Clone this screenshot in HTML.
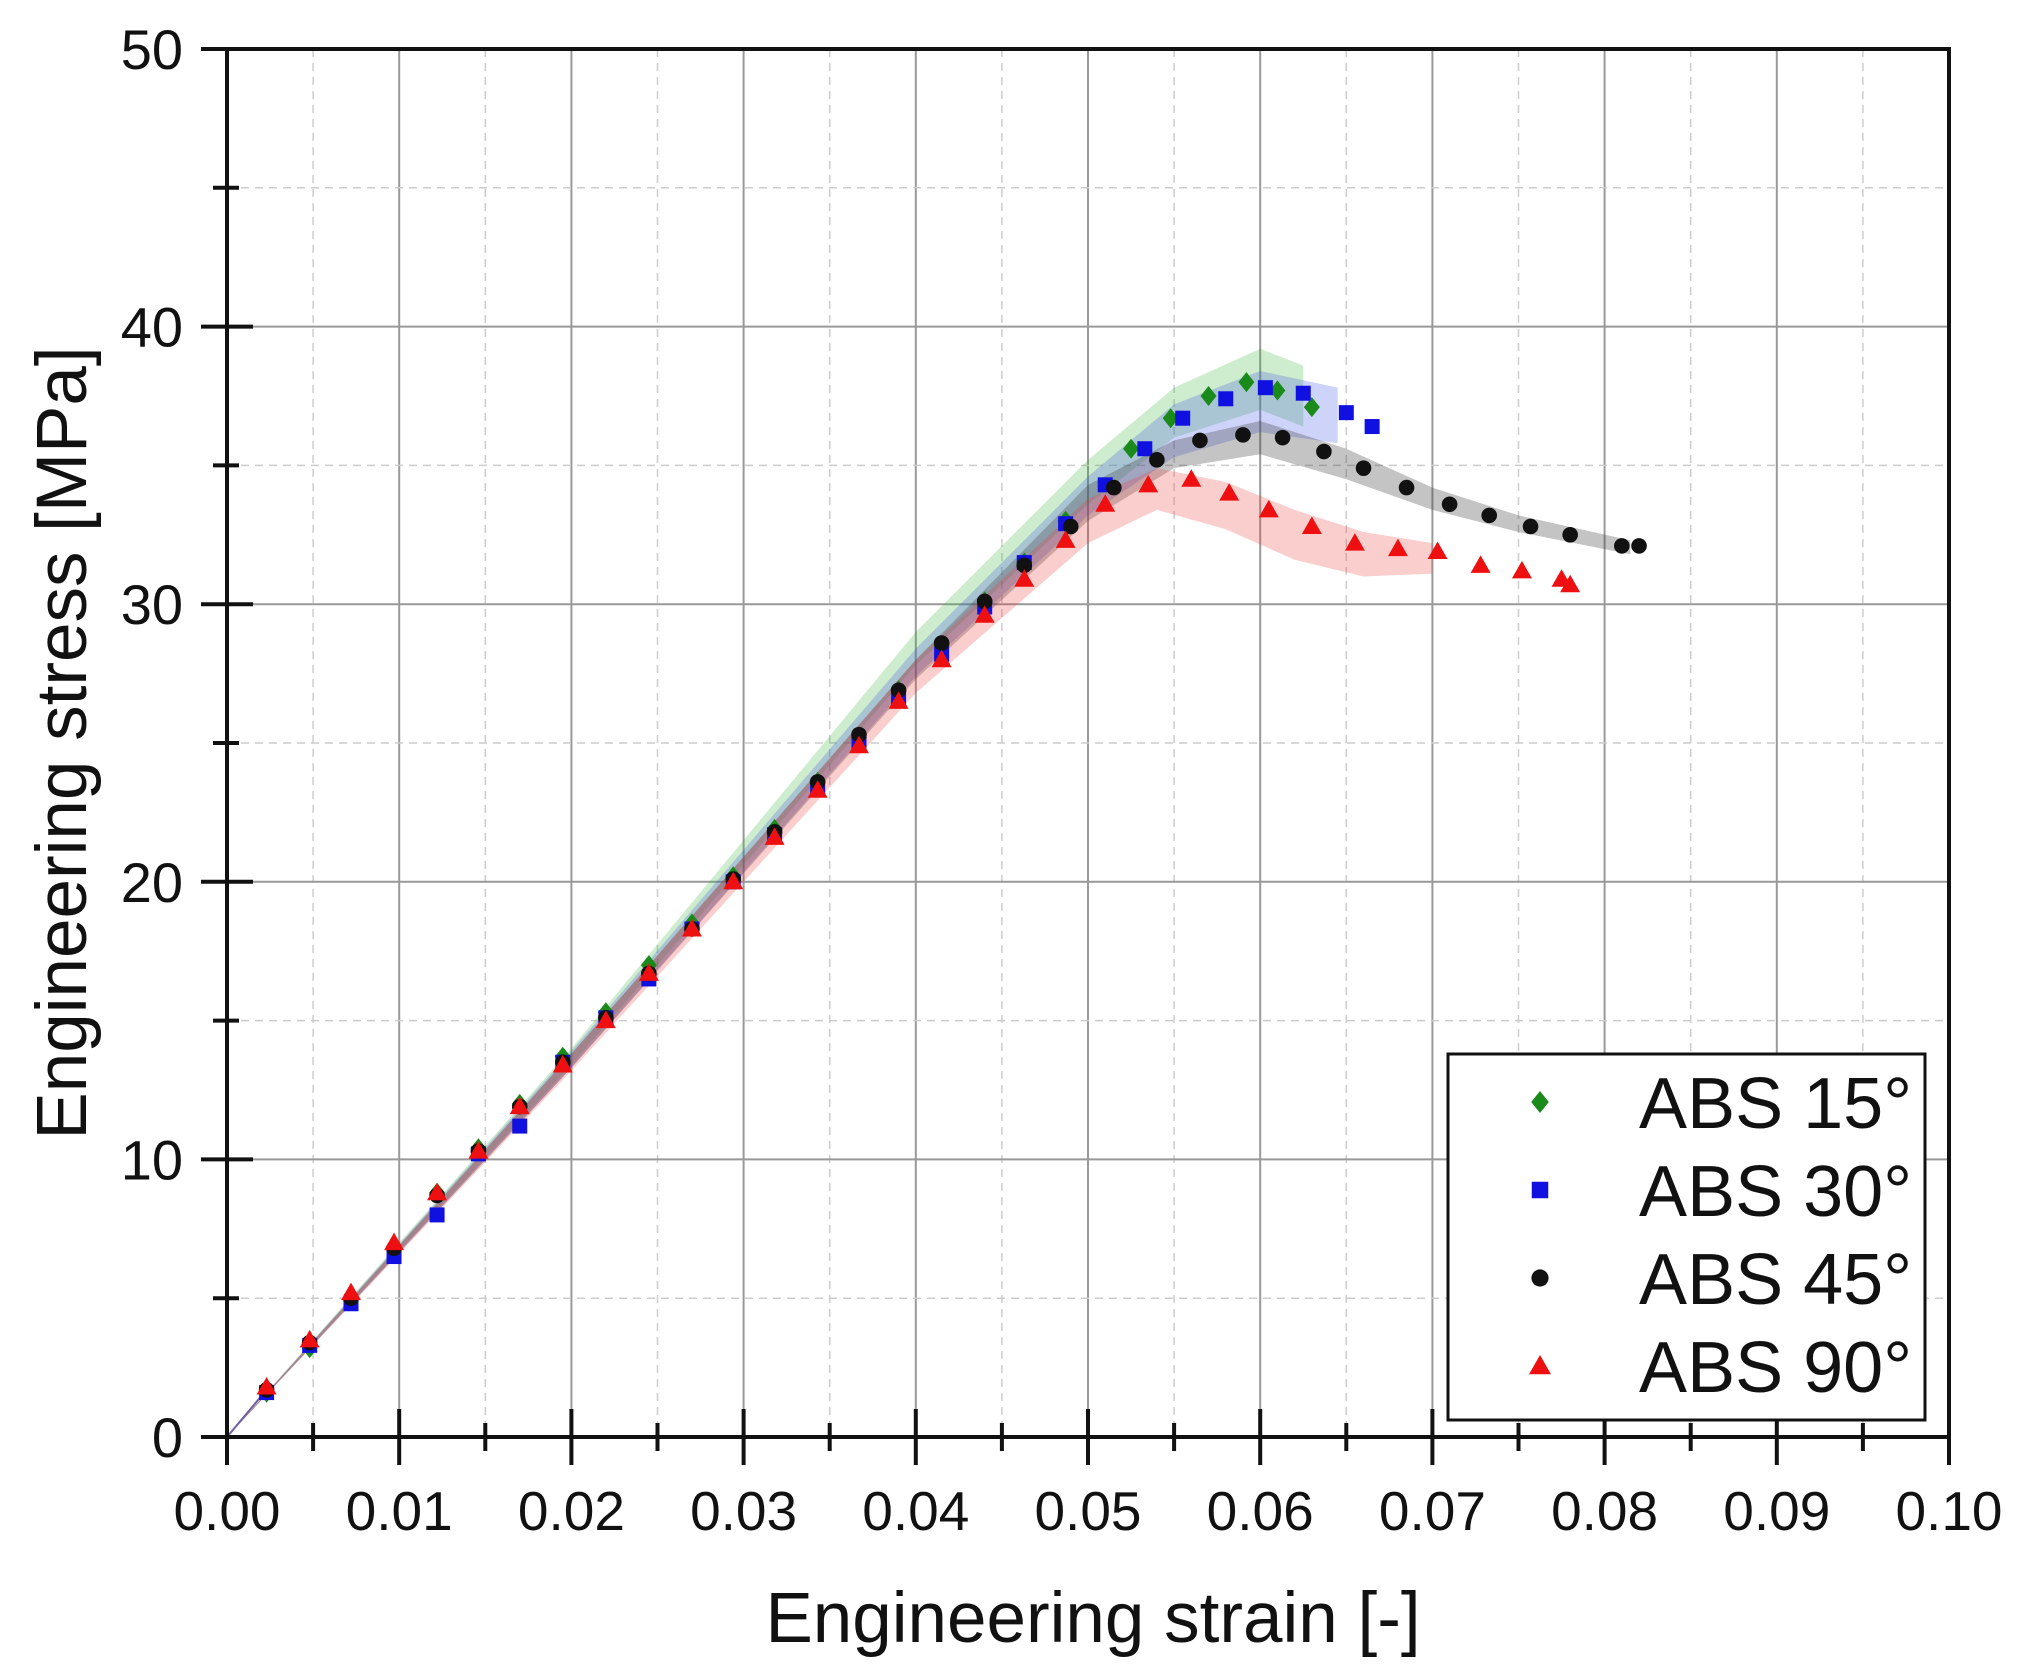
<!DOCTYPE html>
<html><head><meta charset="utf-8"><style>
html,body{margin:0;padding:0;background:#fff;}
svg{display:block;font-family:"Liberation Sans",Arial,sans-serif;}
</style></head><body>
<svg id="chart" width="2028" height="1680" viewBox="0 0 2028 1680" xmlns="http://www.w3.org/2000/svg">
<g id="grid"></g>
<g id="bands"></g>
<g id="marks"></g>
<g id="axes"></g>
<g transform="translate(-8,-6)">
<rect x="1456" y="1060" width="477" height="366" fill="#fff" stroke="#111" stroke-width="3"/>
<g id="legend"></g>
</g>
<text x="1093" y="1642" font-size="71" text-anchor="middle" fill="#111">Engineering strain [-]</text>
<text transform="translate(86,743) rotate(-90)" font-size="71" text-anchor="middle" fill="#111">Engineering stress [MPa]</text>
</svg>
<script>
const xTicks=[0,0.01,0.02,0.03,0.04,0.05,0.06,0.07,0.08,0.09,0.10];
const xTickLabels=["0.00","0.01","0.02","0.03","0.04","0.05","0.06","0.07","0.08","0.09","0.10"];
const yTicks=[0,10,20,30,40,50];
const yTickLabels=["0","10","20","30","40","50"];
const seriesNames=["ABS 15°","ABS 30°","ABS 45°","ABS 90°"];
const seriesColors=["#1a8a1a","#1010e0","#111111","#ee1010"];
const bandColors=["rgba(60,180,60,0.25)","rgba(60,80,230,0.25)","rgba(60,60,60,0.3)","rgba(240,60,60,0.25)"];
const linStrain=[0.0023,0.0048,0.0072,0.0097,0.0122,0.0146,0.017,0.0195,0.022,0.0245,0.027,0.0294,0.0318,0.0343,0.0367,0.039,0.0415,0.044,0.0463];
const s15x=linStrain.concat([0.0487,0.0525,0.0548,0.057,0.0592,0.061,0.063]);
const s15y=[1.6,3.2,4.9,6.8,8.8,10.4,12.0,13.7,15.3,17.0,18.5,20.2,21.9,23.6,25.2,26.9,28.5,30.1,31.5,33.0,35.6,36.7,37.5,38.0,37.7,37.1];
const s30x=linStrain.concat([0.0487,0.051,0.0533,0.0555,0.058,0.0603,0.0625,0.065,0.0665]);
const s30y=[1.6,3.3,4.8,6.5,8.0,10.2,11.2,13.5,15.1,16.5,18.3,20.0,21.7,23.4,25.0,26.6,28.2,29.9,31.5,32.9,34.3,35.6,36.7,37.4,37.8,37.6,36.9,36.4];
const s45x=linStrain.concat([0.049,0.0515,0.054,0.0565,0.059,0.0613,0.0637,0.066,0.0685,0.071,0.0733,0.0757,0.078,0.081,0.082]);
const s45y=[1.7,3.4,5.0,6.8,8.7,10.3,11.9,13.5,15.1,16.7,18.3,20.1,21.8,23.6,25.3,26.9,28.6,30.1,31.4,32.8,34.2,35.2,35.9,36.1,36.0,35.5,34.9,34.2,33.6,33.2,32.8,32.5,32.1,32.1];
const s90x=linStrain.concat([0.0487,0.051,0.0535,0.056,0.0582,0.0605,0.063,0.0655,0.068,0.0703,0.0728,0.0752,0.0775,0.078]);
const s90y=[1.8,3.5,5.2,7.0,8.8,10.3,11.9,13.4,15.0,16.7,18.3,20.0,21.6,23.3,24.9,26.5,28.0,29.6,30.9,32.3,33.6,34.3,34.5,34.0,33.4,32.8,32.2,32.0,31.9,31.4,31.2,30.9,30.7];
const bandX15=[0,0.02,0.04,0.05,0.055,0.06,0.0625];
const bandLo15=[0,13.4,27.8,33.6,36.0,37.0,36.4];
const bandHi15=[0,14.0,29.0,35.2,37.8,39.2,38.6];
const bandX30=[0,0.02,0.04,0.05,0.055,0.06,0.0645];
const bandLo30=[0,13.3,27.4,33.2,35.3,36.2,35.8];
const bandHi30=[0,13.9,28.4,34.6,37.2,38.4,37.8];
const bandX45=[0,0.02,0.04,0.05,0.055,0.06,0.065,0.07,0.075,0.0815];
const bandLo45=[0,13.3,27.3,33.0,34.9,35.4,34.5,33.4,32.6,31.8];
const bandHi45=[0,13.8,28.0,34.3,35.9,36.6,35.6,34.2,33.2,32.3];
const bandX90=[0,0.02,0.04,0.05,0.054,0.058,0.062,0.066,0.07];
const bandLo90=[0,13.2,26.8,32.2,33.4,32.7,31.6,31.0,31.1];
const bandHi90=[0,13.8,28.0,33.8,34.9,34.4,33.4,32.6,32.2];

const L=227,R=1949,T=49,B=1437;
const xs=v=>L+(v-0)/(0.10)*(R-L);
const ys=v=>B-(v/50)*(B-T);
const NS="http://www.w3.org/2000/svg";
function mk(tag,parent,attrs){const e=document.createElementNS(NS,tag);for(const k in attrs)e.setAttribute(k,attrs[k]);parent.appendChild(e);return e;}
const grid=document.getElementById('grid'),axes=document.getElementById('axes'),bands=document.getElementById('bands'),marks=document.getElementById('marks'),legend=document.getElementById('legend');

for(let i=0;i<xTicks.length;i++){
  const x=xs(xTicks[i]);
  if(i>0&&i<xTicks.length-1){const g=mk('line',grid,{x1:x,x2:x,y1:T,y2:B,stroke:'#999','stroke-width':2});
  }
  if(i<xTicks.length-1){const xm=xs(xTicks[i]+0.005);const g=mk('line',grid,{x1:xm,x2:xm,y1:T,y2:B,stroke:'#ccc','stroke-width':1.5,'stroke-dasharray':'8,6'});
  
  const t=mk('line',axes,{x1:xm,x2:xm,y1:B-14,y2:B+14,stroke:'#111','stroke-width':4});
  }
  const t=mk('line',axes,{x1:x,x2:x,y1:B-28,y2:B+28,stroke:'#111','stroke-width':4});
  
  const lb=mk('text',axes,{x:x,y:B+93,'font-size':55,'text-anchor':'middle',fill:'#111'});lb.textContent=xTickLabels[i];
  
}
for(let i=0;i<yTicks.length;i++){
  const y=ys(yTicks[i]);
  if(i>0&&i<yTicks.length-1){const g=mk('line',grid,{x1:L,x2:R,y1:y,y2:y,stroke:'#999','stroke-width':2});
  }
  if(i<yTicks.length-1){const ym=ys(yTicks[i]+5);const g=mk('line',grid,{x1:L,x2:R,y1:ym,y2:ym,stroke:'#ccc','stroke-width':1.5,'stroke-dasharray':'8,6'});
  
  const t=mk('line',axes,{x1:L-14,x2:L+12,y1:ym,y2:ym,stroke:'#111','stroke-width':4});
  }
  const t=mk('line',axes,{x1:L-26,x2:L+26,y1:y,y2:y,stroke:'#111','stroke-width':4});
  
  const lb=mk('text',axes,{x:L-44,y:y+20,'font-size':56,'text-anchor':'end',fill:'#111'});lb.textContent=yTickLabels[i];
  
}
const frame=mk('path',axes,{d:`M${L},${T} L${R},${T} L${R},${B} L${L},${B} Z`,fill:'none',stroke:'#111','stroke-width':4});


const bandSets=[[bandX15,bandLo15,bandHi15],[bandX30,bandLo30,bandHi30],[bandX45,bandLo45,bandHi45],[bandX90,bandLo90,bandHi90]];
bandSets.forEach((b,k)=>{
  let d='';b[0].forEach((x,i)=>{d+=(i?'L':'M')+xs(x)+','+ys(b[2][i])+' ';});
  for(let i=b[0].length-1;i>=0;i--)d+='L'+xs(b[0][i])+','+ys(b[1][i])+' ';
  const p=mk('path',bands,{d:d+'Z',fill:bandColors[k],stroke:'none'});
  
});
const ln=mk('line',bands,{x1:xs(0),y1:ys(0),x2:xs(0.0023),y2:ys(1.7),stroke:'#7060a0','stroke-width':2});


function marker(parent,k,cx,cy,s){
  let e;
  if(k===0)e=mk('polygon',parent,{points:`${cx},${cy-s} ${cx+s*0.8},${cy} ${cx},${cy+s} ${cx-s*0.8},${cy}`,fill:seriesColors[0]});
  else if(k===1)e=mk('rect',parent,{x:cx-s*0.75,y:cy-s*0.75,width:s*1.5,height:s*1.5,fill:seriesColors[1]});
  else if(k===2)e=mk('circle',parent,{cx:cx,cy:cy,r:s*0.78,fill:seriesColors[2]});
  else e=mk('polygon',parent,{points:`${cx},${cy-s} ${cx+s},${cy+s*0.75} ${cx-s},${cy+s*0.75}`,fill:seriesColors[3]});
  return e;
}
const allX=[s15x,s30x,s45x,s90x],allY=[s15y,s30y,s45y,s90y];
allX.forEach((xarr,k)=>{
  const g=mk('g',marks,{});
  
  
  xarr.forEach((x,i)=>{const m=marker(g,k,xs(x),ys(allY[k][i]),10);
    });
});
seriesNames.forEach((n,k)=>{
  const cy=1108+k*88;
  const m=marker(legend,k,1548,cy,11);
  
  const t=mk('text',legend,{x:1920,y:cy+26,'font-size':72,'text-anchor':'end',fill:'#111'});t.textContent=n;
  
});
</script>
</body></html>
